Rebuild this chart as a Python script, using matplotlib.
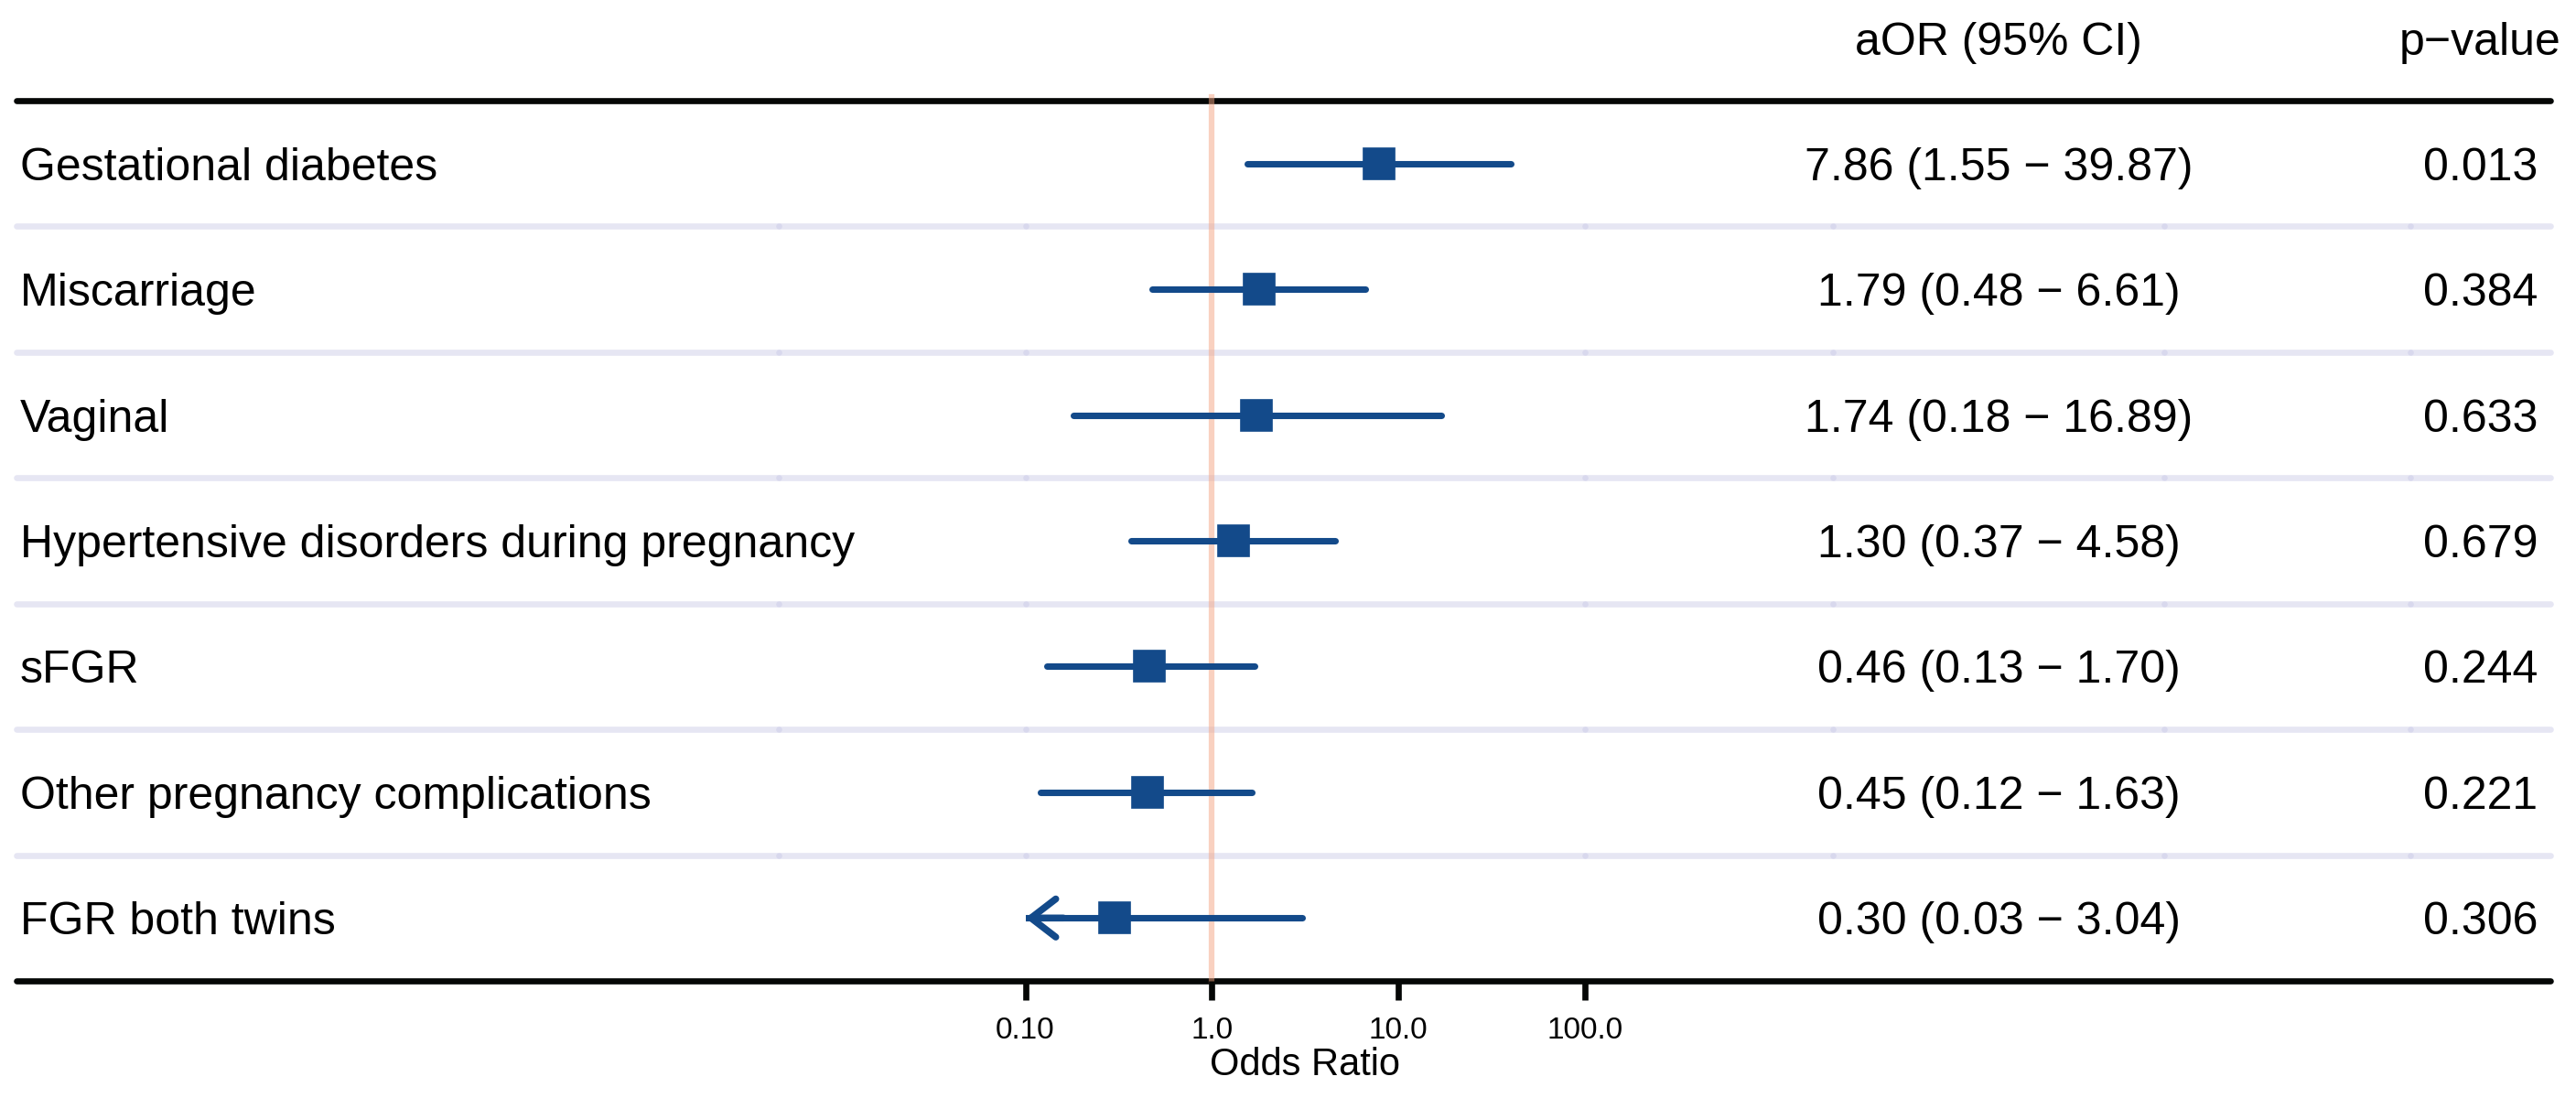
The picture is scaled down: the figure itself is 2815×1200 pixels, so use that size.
import matplotlib
matplotlib.use("Agg")
import matplotlib.pyplot as plt
import numpy as np

plt.rcParams['font.family'] = ['Liberation Sans', 'DejaVu Sans']

# datos
labels = ["Gestational diabetes", "Miscarriage", "Vaginal",
          "Hypertensive disorders during pregnancy", "sFGR",
          "Other pregnancy complications", "FGR both twins"]
aor = [7.86, 1.79, 1.74, 1.30, 0.46, 0.45, 0.30]
lower = [1.55, 0.48, 0.18, 0.37, 0.13, 0.12, 0.03]
upper = [39.87, 6.61, 16.89, 4.58, 1.70, 1.63, 3.04]
pvals = ["0.013", "0.384", "0.633", "0.679", "0.244", "0.221", "0.306"]
headers = ["aOR (95% CI)", "p\u2212value"]
xticks = [0.1, 1, 10, 100]
xtick_labels = ["0.10", "1.0", "10.0", "100.0"]

W, H = 2815, 1200
fig = plt.figure(figsize=(W / 300, H / 300), dpi=300)

# capa de tabla en pixeles
tab = fig.add_axes([0, 0, 1, 1])
tab.set_xlim(0, W)
tab.set_ylim(H, 0)
tab.axis('off')

top, bottom = 110, 1072
n = len(labels)
row_h = (bottom - top) / n
centers = [top + row_h * (i + 0.5) for i in range(n)]
col_edges = [18, 851, 1120.5, 1732, 2003, 2365, 2634, 2787]
x_ci = (1120.5, 1732)
x_aor = (2003 + 2365) / 2
x_p = (2634 + 2787) / 2
cap_half = 18

# separadores
for i in range(1, n):
    y = top + row_h * i
    for a, b in zip(col_edges[:-1], col_edges[1:]):
        tab.plot([a, b], [y, y], color='#C8C8E6', alpha=0.45, lw=1.6,
                 solid_capstyle='round')

tab.plot([col_edges[0], col_edges[-1]], [top, top], color='#050706', lw=1.6,
         solid_capstyle='round')
tab.plot([col_edges[0], col_edges[-1]], [bottom, bottom], color='#050706', lw=1.6,
         solid_capstyle='round')

# encabezados
tab.text(x_aor, 60, headers[0], ha='center', va='baseline', fontsize=12)
tab.text(x_p, 60, headers[1], ha='center', va='baseline', fontsize=12)

for i in range(n):
    yb = centers[i] + cap_half
    tab.text(22, yb, labels[i], ha='left', va='baseline', fontsize=12)
    txt = f"{aor[i]:.2f} ({lower[i]:.2f} \u2212 {upper[i]:.2f})"
    tab.text(x_aor, yb, txt, ha='center', va='baseline', fontsize=12)
    tab.text(x_p, yb, pvals[i], ha='center', va='baseline', fontsize=12)

# columna del forest plot
ax = fig.add_axes([x_ci[0] / W, 1 - bottom / H, (x_ci[1] - x_ci[0]) / W, (bottom - top) / H])
ax.patch.set_alpha(0)
ax.set_xscale('log')
xmin, xmax = 0.1, 100
ax.set_xlim(xmin, xmax)
ax.set_ylim(n - 0.5, -0.5)
for s in ax.spines.values():
    s.set_visible(False)
ax.set_yticks([])
ax.set_xticks(xticks)
ax.set_xticklabels(xtick_labels, fontsize=8)
ax.minorticks_off()
ax.tick_params(axis='x', length=5, width=1.6, color='#050706', pad=4.3)
ax.set_xlabel("Odds Ratio", fontsize=10, labelpad=0.5)

ax.axvline(1, color='#F4A582', alpha=0.5, lw=1.5, zorder=1, ymax=1.004, clip_on=False)

blue = '#134A8A'
ypos = np.arange(n)
for i in range(n):
    lo = max(lower[i], xmin)
    hi = min(upper[i], xmax)
    ax.plot([lo, hi], [ypos[i], ypos[i]], color=blue, lw=1.7,
            solid_capstyle='round', zorder=3)
    if lower[i] < xmin:
        ax.annotate('', xy=(xmin, ypos[i]), xytext=(xmin * 1.6, ypos[i]),
                    arrowprops=dict(arrowstyle='->,head_length=0.65,head_width=0.5',
                                    color=blue, lw=1.8, shrinkA=0, shrinkB=0,
                                    capstyle='round', joinstyle='round'),
                    zorder=3)
ax.plot(aor, ypos, 's', color=blue, markersize=8.0, markeredgewidth=0.4,
        markeredgecolor=blue, zorder=4)

fig.savefig('out.png', dpi=300)
